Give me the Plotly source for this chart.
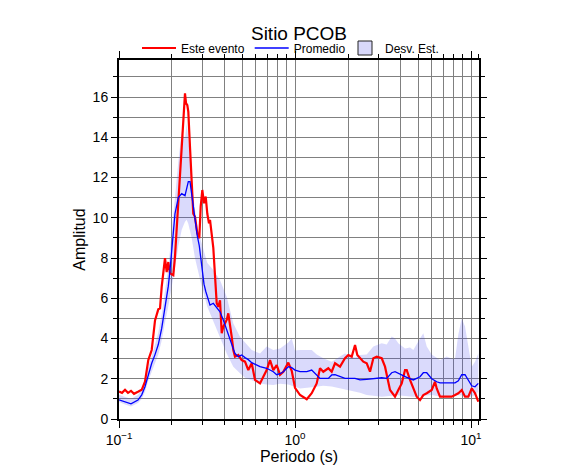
import plotly.graph_objects as go

# ---- data ----
period_event = [0.1, 0.104, 0.1082, 0.1125, 0.117, 0.1217, 0.1282, 0.1346, 0.1405, 0.1467,
                0.1534, 0.1602, 0.1672, 0.171, 0.1748, 0.1825, 0.1866, 0.1906, 0.1949, 0.2035,
                0.208, 0.2173, 0.2271, 0.2371, 0.2403, 0.2444, 0.2476, 0.2532, 0.2588, 0.2643,
                0.2702, 0.2785, 0.2859, 0.2912, 0.2974, 0.3041, 0.3109, 0.3175, 0.3246, 0.3289,
                0.3434, 0.3511, 0.359, 0.3666, 0.3749, 0.3833, 0.3914, 0.4092, 0.4178, 0.4368,
                0.4461, 0.4561, 0.4762, 0.4979, 0.5199, 0.5429, 0.5675, 0.5925, 0.6326, 0.6605,
                0.6905, 0.7211, 0.7529, 0.787, 0.8218, 0.8581, 0.9161, 0.9578, 1.0, 1.068,
                1.166, 1.244, 1.328, 1.387, 1.448, 1.546, 1.616, 1.688, 1.802, 1.923,
                2.008, 2.1, 2.193, 2.259, 2.34, 2.444, 2.555, 2.668, 2.786, 2.912,
                3.109, 3.246, 3.465, 3.7, 3.863, 4.04, 4.217, 4.312, 4.502, 4.701,
                4.914, 5.131, 5.358, 5.602, 5.98, 6.244, 6.384, 6.666, 7.276, 7.768,
                8.112, 8.47, 8.855, 9.246, 9.654, 10.09, 10.54, 11.0]
amp_event = [1.36, 1.3, 1.45, 1.3, 1.4, 1.25, 1.35, 1.45, 1.85, 2.93,
             3.43, 4.9, 5.45, 5.5, 6.57, 8.0, 7.3, 7.8, 7.24, 7.15,
             8.07, 11.05, 13.5, 16.18, 15.7, 15.6, 15.27, 13.5, 11.9, 10.2,
             10.05, 9.23, 8.98, 10.55, 11.38, 10.72, 11.05, 10.2, 9.72, 9.9,
             8.5, 7.24, 5.75, 5.58, 5.9, 4.26, 4.59, 4.92, 5.25, 4.09,
             3.43, 3.1, 3.18, 2.93, 2.85, 2.43, 2.77, 1.94, 1.77, 2.1,
             2.43, 2.93, 2.43, 2.68, 2.2, 2.35, 2.8, 2.4, 1.55, 1.19,
             0.98, 1.28, 1.77, 2.52, 2.35, 2.52, 2.35, 2.77, 2.6, 3.02,
             3.18, 3.1, 3.68, 3.18, 3.02, 2.85, 2.77, 2.35, 3.02, 3.1,
             3.02, 2.6, 1.44, 1.11, 1.44, 1.77, 2.43, 2.43, 1.94, 1.52,
             1.11, 0.94, 1.19, 1.28, 1.44, 1.85, 1.52, 1.11, 1.11, 1.11,
             1.19, 1.28, 1.44, 1.11, 1.11, 1.52, 1.28, 0.86]

period_mean = [0.1, 0.1082, 0.117, 0.1282, 0.1346, 0.1405, 0.1467, 0.1534, 0.1602, 0.1672,
               0.1748, 0.1825, 0.1906, 0.1949, 0.2035, 0.208, 0.2173, 0.2271, 0.2371, 0.2403,
               0.2444, 0.2476, 0.2532, 0.2588, 0.2643, 0.2702, 0.2785, 0.2859, 0.2912, 0.2974,
               0.3041, 0.3109, 0.3175, 0.3246, 0.3289, 0.3434, 0.3511, 0.359, 0.3749, 0.3914,
               0.4092, 0.4368, 0.4461, 0.4561, 0.4762, 0.4979, 0.5199, 0.5429, 0.5675, 0.5925,
               0.6326, 0.6905, 0.7211, 0.7529, 0.787, 0.8218, 0.8581, 0.9161, 0.9578, 1.0,
               1.068, 1.166, 1.244, 1.328, 1.387, 1.546, 1.616, 1.688, 1.802, 1.923,
               2.193, 2.34, 2.555, 2.786, 3.109, 3.319, 3.543, 3.7, 3.863, 4.04,
               4.312, 4.701, 5.131, 5.358, 5.602, 5.98, 6.384, 6.666, 7.276, 7.768,
               8.112, 8.47, 8.855, 9.246, 9.654, 10.09, 10.54, 11.0]
amp_mean = [0.95, 0.86, 0.75, 0.94, 1.2, 1.6, 2.2, 2.77, 3.2, 3.7,
            4.5, 5.5, 6.6, 7.4, 9.2, 10.2, 11.0, 11.2, 11.1, 11.3,
            11.5, 11.8, 11.8, 11.2, 10.4, 9.9, 9.1, 8.6, 8.0, 7.4,
            6.7, 6.35, 6.1, 5.8, 5.66, 5.75, 5.65, 5.58, 5.33, 4.92,
            4.42, 3.7, 3.43, 3.25, 3.1, 3.18, 3.05, 2.95, 2.8, 2.72,
            2.6, 2.52, 2.45, 2.35, 2.2, 2.25, 2.35, 2.6, 2.55, 2.43,
            2.35, 2.35, 2.43, 2.15, 2.02, 2.02, 2.19, 2.2, 2.1, 2.02,
            2.02, 1.94, 1.97, 2.02, 2.05, 2.02, 2.3, 2.35, 2.27, 2.15,
            2.07, 1.94, 2.1, 2.3, 2.3, 2.0, 1.85, 1.8, 1.8, 1.82,
            1.8, 1.9, 2.2, 2.2, 1.94, 1.65, 1.6, 1.77]

period_band = [0.1, 0.1082, 0.117, 0.1282, 0.1346, 0.1405, 0.1467, 0.1534, 0.1602, 0.1672,
               0.1748, 0.1825, 0.1906, 0.1949, 0.2035, 0.208, 0.2173, 0.2271, 0.2371, 0.2421,
               0.2476, 0.2532, 0.2588, 0.2702, 0.2785, 0.2912, 0.3175, 0.3434, 0.3749, 0.4092,
               0.4461, 0.4869, 0.5199, 0.5675, 0.6326, 0.6905, 0.7529, 0.8218, 0.9161, 0.9578,
               1.0, 1.068, 1.244, 1.328, 1.448, 1.616, 1.802, 1.923, 2.193, 2.34,
               2.555, 2.786, 3.109, 3.319, 3.543, 3.7, 3.863, 4.217, 4.502, 4.701,
               5.131, 5.358, 5.602, 5.98, 6.666, 7.276, 7.768, 8.112, 8.47, 8.855,
               9.246, 9.654, 10.09, 10.54, 11.0]
amp_upper = [1.2, 1.1, 1.0, 1.2, 1.5, 1.95, 2.6, 3.1, 3.7, 4.3,
             5.2, 6.3, 7.5, 8.4, 10.0, 11.0, 12.8, 14.3, 13.9, 14.7,
             13.9, 13.0, 11.6, 10.4, 9.6, 8.9, 7.75, 7.4, 6.9, 6.08,
             4.75, 4.09, 3.8, 3.43, 3.26, 3.6, 3.43, 3.5, 3.8, 4.0,
             3.4, 3.43, 3.43, 3.2, 3.02, 2.85, 3.1, 3.26, 3.05, 3.18,
             3.2, 3.6, 3.76, 3.7, 4.1, 4.0, 3.76, 3.5, 3.55, 3.43,
             4.0, 4.26, 3.6, 3.2, 2.93, 3.1, 3.0, 3.0, 4.2, 5.0,
             4.6, 3.5, 2.6, 2.85, 3.26]
amp_lower = [0.85, 0.72, 0.62, 0.8, 1.0, 1.35, 1.9, 2.4, 2.8, 3.2,
             3.9, 4.8, 5.6, 6.2, 7.0, 7.5, 8.6, 9.4, 9.8, 9.9,
             9.7, 9.4, 9.0, 8.0, 7.5, 6.8, 5.58, 4.92, 4.09, 3.26,
             2.6, 2.27, 2.05, 1.92, 1.77, 1.72, 1.69, 1.75, 1.72, 1.65,
             1.6, 1.52, 1.58, 1.6, 1.65, 1.62, 1.52, 1.45, 1.36, 1.3,
             1.19, 1.15, 1.11, 1.13, 1.15, 1.19, 1.17, 1.14, 1.12, 1.11,
             1.13, 1.15, 1.17, 1.19, 1.12, 1.11, 1.13, 1.16, 1.18, 1.19,
             1.17, 1.12, 1.11, 1.2, 1.36]

x_major_ticks = [0.1, 1, 10]
x_major_labels = ["10<sup>\u22121</sup>", "10<sup>0</sup>", "10<sup>1</sup>"]
x_minor_ticks = [m * d for d in (0.1, 1, 10) for m in range(2, 10)] + [11]

BAND_FILL = "rgba(70,70,240,0.2)"
FONT = "Liberation Sans, Arial, Helvetica, sans-serif"
W, H = 586, 475
OFF = 8  # page body margin in the browser

fig = go.Figure()
fig.add_trace(go.Scatter(
    x=period_band + period_band[::-1], y=amp_upper + amp_lower[::-1],
    fill="toself", fillcolor=BAND_FILL, line=dict(width=0), mode="lines",
    hoverinfo="skip", showlegend=False))
fig.add_trace(go.Scatter(x=period_event, y=amp_event, mode="lines",
                         line=dict(color="#ff0000", width=2.2), name="Este evento"))
fig.add_trace(go.Scatter(x=period_mean, y=amp_mean, mode="lines",
                         line=dict(color="#0000ff", width=1.3), name="Promedio"))
fig.add_trace(go.Scatter(x=[None], y=[None], mode="markers", name="Desv. Est.",
                         legend="legend2",
                         marker=dict(symbol="square", size=14, color="rgb(216,216,250)",
                                     line=dict(color="#222", width=1))))

legend_common = dict(orientation="h", xanchor="left", yref="container",
                     y=1 - 40 / H, yanchor="middle", font=dict(size=12),
                     bgcolor="rgba(0,0,0,0)", xref="container")
fig.update_layout(
    width=W, height=H,
    margin=dict(l=119 - OFF, r=W + OFF - 479, t=60 - OFF, b=H + OFF - 419, autoexpand=False),
    paper_bgcolor="white", plot_bgcolor="white",
    font=dict(family=FONT, size=13, color="black"),
    title=dict(text="Sitio PCOB", x=0.5, xref="paper", xanchor="center",
               yref="container", y=1 - 25 / H, yanchor="middle", font=dict(size=19)),
    legend=dict(legend_common, x=(137 - OFF) / W, itemwidth=34),
    legend2=dict(legend_common, x=(345 - OFF) / W, itemwidth=30),
    showlegend=True,
)
fig.update_xaxes(
    type="log", range=[-1, 1.0453], automargin=False,
    tickvals=x_major_ticks, ticktext=x_major_labels,
    ticks="outside", ticklen=7, tickwidth=1, tickcolor="black",
    showgrid=True, gridcolor="#808080", gridwidth=1,
    showline=True, linecolor="black", linewidth=2, mirror="allticks",
    zeroline=False,
    minor=dict(tickvals=x_minor_ticks, ticks="outside", ticklen=4, tickcolor="black",
               showgrid=True, gridcolor="#808080", gridwidth=1),
    title=dict(text="Periodo (s)", font=dict(size=16), standoff=4),
    tickfont=dict(size=14),
)
fig.update_yaxes(
    range=[0, 17.84], dtick=2, tick0=0, automargin=False,
    ticks="outside", ticklen=6, tickwidth=1, tickcolor="black",
    showgrid=True, gridcolor="#808080", gridwidth=1,
    showline=True, linecolor="black", linewidth=2, mirror="allticks",
    zeroline=False,
    minor=dict(dtick=1, ticks="outside", ticklen=4, tickcolor="black",
               showgrid=True, gridcolor="#808080", gridwidth=1),
    title=dict(text="Amplitud", font=dict(size=16), standoff=3),
    tickfont=dict(size=14),
)

fig.write_html("out.html")
